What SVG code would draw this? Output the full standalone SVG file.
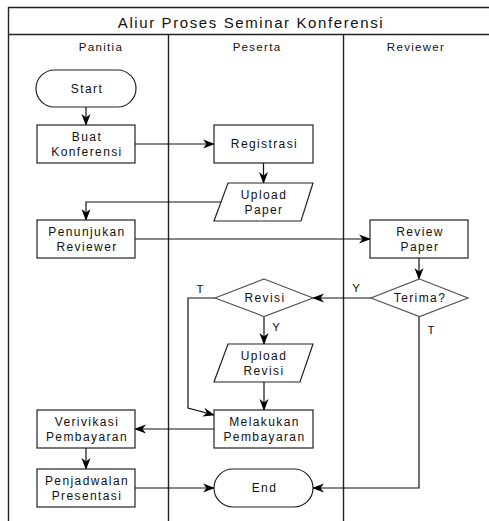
<svg xmlns="http://www.w3.org/2000/svg" width="489" height="521" viewBox="0 0 489 521">
<defs>
<marker id="arr" markerUnits="userSpaceOnUse" markerWidth="12" markerHeight="10" viewBox="0 0 12 10" refX="11" refY="5" orient="auto">
<path d="M0,0.5 L12,5 L0,9.5 L3.5,5 z" fill="#000"/>
</marker>
</defs>
<style>
.frame{fill:none;stroke:#222;stroke-width:1.4}
.box{fill:#fff;stroke:#222;stroke-width:1.2}
.dia{fill:#fff;stroke:#555;stroke-width:1.2}
.con{fill:none;stroke:#111;stroke-width:1.2;marker-end:url(#arr)}
text{font-family:"Liberation Sans",Arial,sans-serif;fill:#111;text-anchor:middle}
.t{font-size:12px;letter-spacing:1.4px}
.h{font-size:11.5px;letter-spacing:1.3px}
.title{font-size:15px;letter-spacing:1.6px}
.lbl{font-size:11.5px}
</style>
<rect width="489" height="521" fill="#fff"/>
<g id="pool">
<path class="frame" d="M8.5,521 V7.5 H489 M8.5,34.5 H489 M168.5,34.5 V521 M343.5,34.5 V521"/>
<text class="title" x="251" y="28">Aliur Proses Seminar Konferensi</text>
<text class="h" x="101" y="51">Panitia</text>
<text class="h" x="257" y="51">Peserta</text>
<text class="h" x="416" y="51">Reviewer</text>
</g>
<g id="connectors">
<path class="con" d="M86,107 V125"/>
<path class="con" d="M135,144 H214"/>
<path class="con" d="M263.5,163 V183"/>
<path class="con" d="M221,202 H86 V220"/>
<path class="con" d="M135,239 H370"/>
<path class="con" d="M419,258 V279"/>
<path class="con" d="M371,298 H313"/>
<path class="con" d="M264,316.5 V344"/>
<path class="con" d="M215,298 H188 V408 L214,415"/>
<path class="con" d="M264,382 V410"/>
<path class="con" d="M214,429 H135"/>
<path class="con" d="M86,448 V469"/>
<path class="con" d="M135,488 H214"/>
<path class="con" d="M419,316.5 V488 H313"/>
<text class="lbl" x="200" y="293">T</text>
<text class="lbl" x="356" y="292">Y</text>
<text class="lbl" x="276" y="331">Y</text>
<text class="lbl" x="431" y="334">T</text>
</g>
<g id="start">
<rect class="box" x="36" y="70" width="100" height="37" rx="18.5"/>
<text class="t" x="87" y="93">Start</text>
</g>
<g id="buat-konferensi">
<rect class="box" x="37" y="125" width="98" height="38"/>
<text class="t" x="87" y="141">Buat</text>
<text class="t" x="87" y="156">Konferensi</text>
</g>
<g id="registrasi">
<rect class="box" x="214" y="125" width="99" height="38"/>
<text class="t" x="264.5" y="148">Registrasi</text>
</g>
<g id="upload-paper">
<polygon class="box" points="228,183 313,183 301,221 214,221"/>
<text class="t" x="264" y="199">Upload</text>
<text class="t" x="264" y="214">Paper</text>
</g>
<g id="penunjukan-reviewer">
<rect class="box" x="37" y="220" width="98" height="38"/>
<text class="t" x="87" y="236">Penunjukan</text>
<text class="t" x="87" y="251">Reviewer</text>
</g>
<g id="review-paper">
<rect class="box" x="370" y="220" width="98" height="38"/>
<text class="t" x="420" y="236">Review</text>
<text class="t" x="420" y="251">Paper</text>
</g>
<g id="terima">
<polygon class="dia" points="419.5,279 468,298 419.5,316.5 371,298"/>
<text class="t" x="420" y="302">Terima?</text>
</g>
<g id="revisi">
<polygon class="dia" points="264,279 313,298 264,316.5 215,298"/>
<text class="t" x="265" y="302">Revisi</text>
</g>
<g id="upload-revisi">
<polygon class="box" points="228,344 313,344 300,382 214,382"/>
<text class="t" x="264" y="360">Upload</text>
<text class="t" x="264" y="375">Revisi</text>
</g>
<g id="melakukan-pembayaran">
<rect class="box" x="214" y="410" width="99" height="38"/>
<text class="t" x="264.5" y="426">Melakukan</text>
<text class="t" x="264.5" y="441">Pembayaran</text>
</g>
<g id="verivikasi-pembayaran">
<rect class="box" x="37" y="410" width="98" height="38"/>
<text class="t" x="87" y="426">Verivikasi</text>
<text class="t" x="87" y="441">Pembayaran</text>
</g>
<g id="penjadwalan-presentasi">
<rect class="box" x="37" y="469" width="98" height="38"/>
<text class="t" x="87" y="485">Penjadwalan</text>
<text class="t" x="87" y="500">Presentasi</text>
</g>
<g id="end">
<rect class="box" x="214" y="469" width="99" height="38" rx="19"/>
<text class="t" x="264.5" y="492">End</text>
</g>
</svg>
